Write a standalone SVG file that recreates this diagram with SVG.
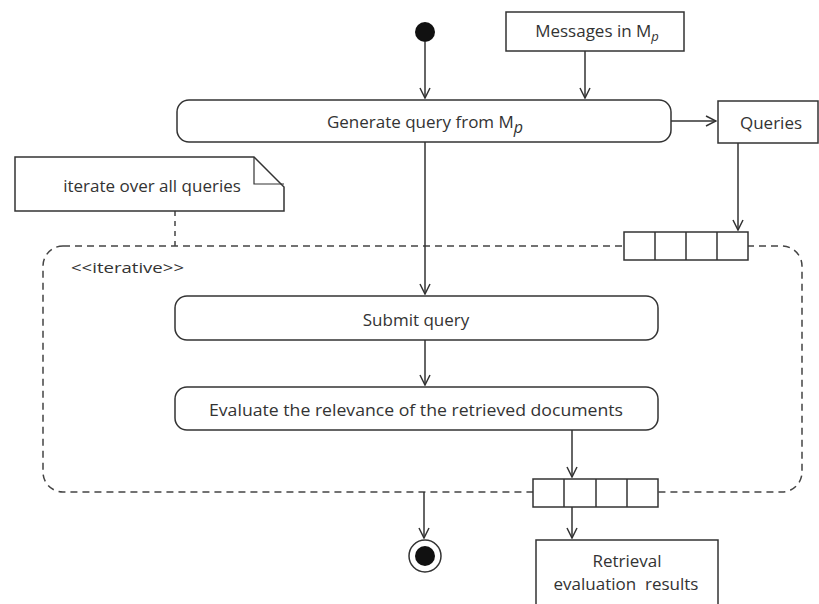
<svg xmlns="http://www.w3.org/2000/svg" width="819" height="604" viewBox="0 0 819 604">
<defs>
<marker id="arr" viewBox="0 0 12 12" refX="11" refY="6" markerWidth="12" markerHeight="12" markerUnits="userSpaceOnUse" orient="auto">
<path d="M1,1 L11,6 L1,11" fill="none" stroke="#333" stroke-width="1.5"/>
</marker>
</defs>
<style>
.box{fill:#fff;stroke:#333;stroke-width:1.5}
.ln{fill:none;stroke:#333;stroke-width:1.5}
.dash{fill:none;stroke:#444;stroke-width:1.5;stroke-dasharray:7,5}
.t{font-family:"Open Sans","Noto Sans",sans-serif;font-size:17px;fill:#333;text-anchor:middle}
.s{font-family:"Open Sans","Noto Sans",sans-serif;font-size:13px;font-style:italic;fill:#333}
</style>
<rect width="819" height="604" fill="#fff"/>
<g id="region">
<rect x="43" y="246" width="759" height="246" rx="20" ry="20" class="dash"/>
<text x="71" y="273" class="t" style="text-anchor:start;font-size:15px" textLength="113" lengthAdjust="spacingAndGlyphs">&lt;&lt;iterative&gt;&gt;</text>
</g>
<g id="connectors">
<line x1="425" y1="42" x2="425" y2="98" class="ln" marker-end="url(#arr)"/>
<line x1="585" y1="51" x2="585" y2="98" class="ln" marker-end="url(#arr)"/>
<line x1="671" y1="121" x2="716" y2="121" class="ln" marker-end="url(#arr)"/>
<line x1="738" y1="143" x2="738" y2="230" class="ln" marker-end="url(#arr)"/>
<line x1="175" y1="211" x2="175" y2="246" class="dash" style="stroke-dasharray:5,5"/>
<line x1="425" y1="142" x2="425" y2="294" class="ln" marker-end="url(#arr)"/>
<line x1="425" y1="340" x2="425" y2="385" class="ln" marker-end="url(#arr)"/>
<line x1="572" y1="430" x2="572" y2="477" class="ln" marker-end="url(#arr)"/>
<line x1="572" y1="507" x2="572" y2="538" class="ln" marker-end="url(#arr)"/>
<line x1="424" y1="492" x2="424" y2="538" class="ln" marker-end="url(#arr)"/>
</g>
<g id="start">
<circle cx="425" cy="32" r="10" fill="#111"/>
</g>
<g id="messages">
<rect x="506" y="12" width="178" height="39" class="box"/>
<text x="597" y="37" class="t">Messages in M<tspan class="s" dy="4">p</tspan></text>
</g>
<g id="generate">
<rect x="177" y="100" width="494" height="42" rx="12" ry="12" class="box"/>
<text x="425" y="128" class="t">Generate query from M<tspan class="s" dy="5" style="font-size:16px">p</tspan></text>
</g>
<g id="queries">
<rect x="718" y="101" width="100" height="42" class="box"/>
<text x="771" y="129" class="t">Queries</text>
</g>
<g id="note">
<path d="M15,157 L254,157 L284,187 L284,211 L15,211 Z" class="box"/>
<path d="M254,157 L254,184 L284,184" class="ln" style="stroke-width:1.2"/>
<text x="152" y="192" class="t">iterate over all queries</text>
</g>
<g id="pin-in">
<rect x="624" y="232" width="124" height="28" class="box"/>
<line x1="655" y1="232" x2="655" y2="260" class="ln"/>
<line x1="686" y1="232" x2="686" y2="260" class="ln"/>
<line x1="717" y1="232" x2="717" y2="260" class="ln"/>
</g>
<g id="submit">
<rect x="175" y="296" width="483" height="44" rx="12" ry="12" class="box"/>
<text x="416" y="326" class="t">Submit query</text>
</g>
<g id="evaluate">
<rect x="175" y="387" width="483" height="43" rx="12" ry="12" class="box"/>
<text x="416" y="416" class="t" textLength="414" lengthAdjust="spacingAndGlyphs">Evaluate the relevance of the retrieved documents</text>
</g>
<g id="pin-out">
<rect x="533" y="479" width="125" height="28" class="box"/>
<line x1="564" y1="479" x2="564" y2="507" class="ln"/>
<line x1="596" y1="479" x2="596" y2="507" class="ln"/>
<line x1="627" y1="479" x2="627" y2="507" class="ln"/>
</g>
<g id="results">
<rect x="536" y="540" width="182" height="66" class="box"/>
<text x="627" y="567" class="t">Retrieval</text>
<text x="626" y="590" class="t" xml:space="preserve">evaluation  results</text>
</g>
<g id="final">
<circle cx="425" cy="556" r="16" fill="#fff" stroke="#333" stroke-width="1.5"/>
<circle cx="425" cy="556" r="10" fill="#111"/>
</g>
</svg>
